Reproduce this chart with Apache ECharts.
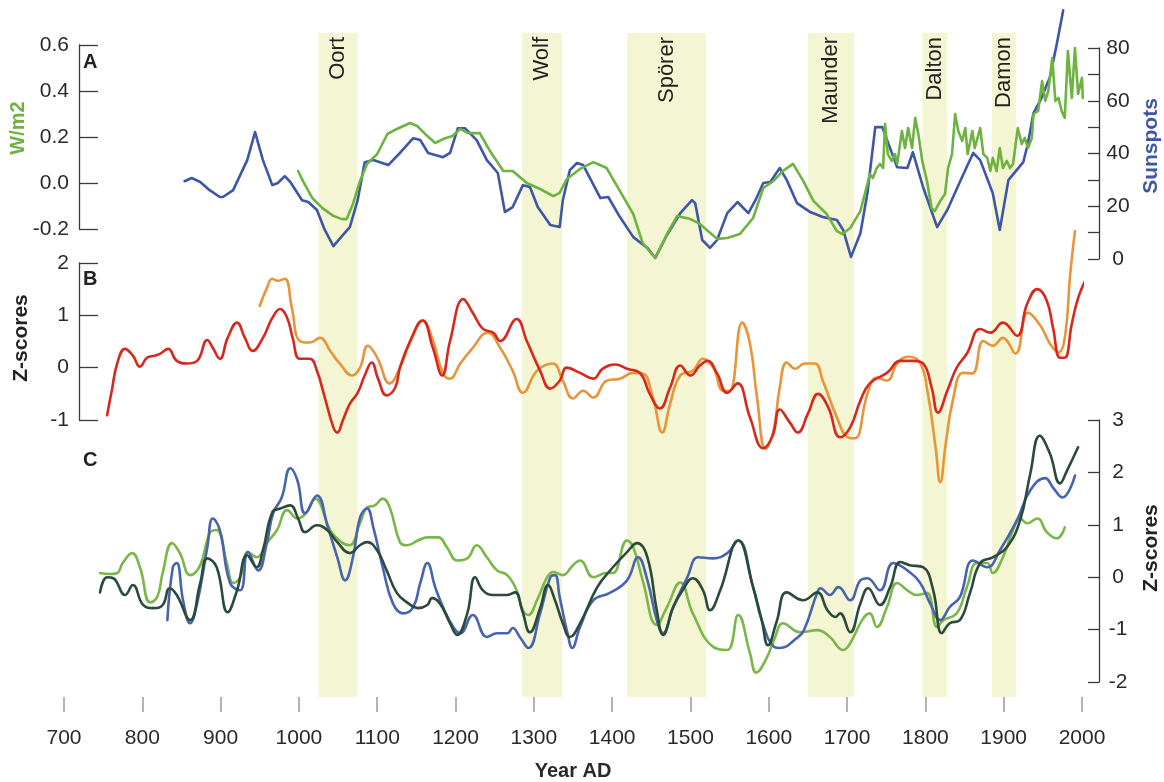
<!DOCTYPE html>
<html>
<head>
<meta charset="utf-8">
<script src="https://cdn.jsdelivr.net/npm/echarts@6/dist/echarts.min.js"></script>
<style>html,body{margin:0;padding:0;background:#fff;}#c{width:1164px;height:782px;}</style>
</head>
<body>
<div id="c"></div>
<script>
// ---- data ----
const xTicks = [700, 2000, 100];
const bandNames = ['Oort', 'Wolf', 'Spörer', 'Maunder', 'Dalton', 'Damon'];
const bandStart = [1025, 1285, 1419, 1650, 1796, 1885];
const bandEnd   = [1075, 1336, 1520, 1709, 1828, 1916];

// Panel A: total solar irradiance anomaly (W/m2)
const aIrradiance = [[999,0.052],[1005,0.009],[1017,-0.065],[1030,-0.109],[1044,-0.143],[1055,-0.157],[1061,-0.157],[1069,-0.091],[1078,0.009],[1087,0.083],[1100,0.126],[1113,0.213],[1125,0.235],[1142,0.261],[1151,0.248],[1164,0.204],[1174,0.174],[1184,0.191],[1196,0.204],[1206,0.235],[1216,0.217],[1231,0.217],[1244,0.139],[1261,0.052],[1273,0.052],[1291,0],[1308,-0.026],[1325,-0.057],[1333,-0.043],[1342,0.017],[1359,0.061],[1376,0.091],[1393,0.065],[1410,-0.035],[1427,-0.135],[1439,-0.261],[1455,-0.326],[1470,-0.222],[1483,-0.143],[1500,-0.157],[1512,-0.178],[1534,-0.243],[1547,-0.239],[1563,-0.222],[1580,-0.152],[1593,-0.022],[1606,0.009],[1618,0.052],[1631,0.083],[1644,0.009],[1657,-0.078],[1674,-0.135],[1687,-0.209],[1694,-0.222],[1704,-0.196],[1717,-0.122],[1726,-0.004],[1729,0.039],[1733,0.022],[1738,0.065],[1742,0.083],[1746,0.065],[1748.5,0.257],[1752,0.126],[1757,0.096],[1761,0.126],[1764,0.083],[1770,0.226],[1774,0.152],[1778,0.239],[1783,0.152],[1787,0.283],[1791,0.213],[1796,0.096],[1802,0.009],[1808,-0.109],[1812,-0.122],[1819,-0.078],[1825,-0.048],[1829,0.065],[1834,0.126],[1838,0.300],[1842,0.226],[1847,0.183],[1851,0.239],[1854,0.126],[1860,0.226],[1863,0.152],[1870,0.239],[1874,0.126],[1879,0.109],[1883,0.052],[1886,0.109],[1891,0.052],[1895,0.152],[1899,0.065],[1904,0.096],[1908,0.065],[1912,0.083],[1918,0.239],[1923,0.170],[1927,0.196],[1931,0.152],[1936,0.196],[1938,0.300],[1944,0.313],[1949,0.443],[1953,0.357],[1957,0.400],[1962,0.543],[1966,0.357],[1970,0.370],[1974,0.313],[1978,0.283],[1982,0.574],[1987,0.370],[1991,0.587],[1995,0.387],[2000,0.457],[2001,0.370]];
// Panel A: sunspot number
const aSunspots = [[854,29.5],[863,30.7],[874,29.2],[886,26.1],[899,23.5],[903,23.5],[916,26.1],[934,37.5],[944,48.1],[954,37.5],[966,28],[973,28.8],[982,31.4],[989,29.2],[1004,22.3],[1012,21.6],[1023,18.6],[1033,11],[1044,4.9],[1053,8],[1065,12.1],[1075,22.3],[1084,36.7],[1095,37.5],[1114,35.6],[1129,40.2],[1146,45.8],[1155,45.1],[1165,40.2],[1184,38.6],[1193,40.2],[1203,49.6],[1212,49.6],[1227,45.1],[1240,37.5],[1254,32.6],[1263,17.8],[1273,19.7],[1286,28],[1295,27.3],[1305,19.7],[1321,12.9],[1333,12.1],[1337,22.3],[1346,33.7],[1355,36.4],[1363,35.6],[1385,23.1],[1395,23.5],[1410,15.9],[1427,8.3],[1445,4.2],[1455,0.4],[1470,9.1],[1487,17.4],[1502,22.3],[1506,21.2],[1515,7.2],[1525,4.2],[1534,7.2],[1547,17.4],[1560,21.6],[1574,17.4],[1583,22.3],[1593,28.8],[1602,29.2],[1614,34.5],[1623,29.9],[1636,21.2],[1653,17.8],[1669,15.9],[1687,14.8],[1695,11],[1705,0.8],[1717,9.8],[1726,25],[1736,50],[1745,50],[1751,45.1],[1764,34.8],[1777,34.5],[1784,40.5],[1797,27.3],[1815,12.1],[1828,18.6],[1844,29.2],[1861,40.2],[1870,37.5],[1886,25],[1895,11],[1906,29.9],[1925,36.7],[1931,43.9],[1938,55.3],[1947,60.2],[1959,68.9],[1968,81.8],[1976,94.3]];

// Panel B: z-scores
const bRed = [[755,-0.91],[761,-0.44],[768,0.08],[778,0.36],[788,0.23],[797,0.02],[806,0.19],[816,0.23],[823,0.27],[833,0.36],[844,0.13],[857,0.08],[870,0.13],[883,0.53],[890,0.38],[899,0.17],[909,0.57],[921,0.86],[931,0.57],[941,0.32],[954,0.57],[966,0.95],[976,1.12],[985,0.95],[992,0.57],[1001,0.17],[1014,0.17],[1023,-0.06],[1033,-0.57],[1044,-1.14],[1049,-1.24],[1056,-1.01],[1065,-0.69],[1075,-0.48],[1084,-0.15],[1093,0.10],[1101,-0.21],[1112,-0.53],[1123,-0.38],[1129,0],[1142,0.51],[1158,0.90],[1171,0.38],[1183,-0.15],[1193,0.51],[1210,1.31],[1222,1.05],[1235,0.74],[1248,0.67],[1257,0.51],[1278,0.93],[1291,0.51],[1308,-0.06],[1321,-0.40],[1333,-0.25],[1342,0],[1359,-0.10],[1376,-0.21],[1388,-0.02],[1404,0.06],[1419,-0.02],[1436,-0.11],[1448,-0.50],[1461,-0.78],[1474,-0.38],[1487,0.04],[1500,-0.15],[1512,0.04],[1522,0.13],[1534,-0.11],[1547,-0.48],[1560,-0.30],[1576,-0.95],[1593,-1.54],[1605,-1.3],[1614,-0.8],[1627,-1.05],[1637,-1.24],[1650,-0.88],[1663,-0.50],[1676,-0.76],[1691,-1.33],[1704,-1.14],[1717,-0.63],[1729,-0.30],[1751,-0.10],[1768,0.13],[1784,0.13],[1797,0.08],[1808,-0.38],[1816,-0.86],[1828,-0.44],[1840,0],[1853,0.27],[1870,0.74],[1883,0.67],[1899,0.86],[1917,0.61],[1930,1.22],[1943,1.50],[1955,1.28],[1963,0.76],[1972,0.19],[1978,0.19],[1987,0.84],[1995,1.33],[2004,1.66]];
const bOrange = [[950,1.18],[959,1.52],[966,1.70],[973,1.66],[982,1.70],[991,1.14],[1001,0.51],[1014,0.48],[1027,0.57],[1040,0.32],[1052,0.08],[1068,-0.15],[1078,0],[1088,0.42],[1100,0.19],[1116,-0.30],[1129,0],[1142,0.48],[1158,0.90],[1170,0.57],[1184,-0.11],[1193,-0.21],[1206,0.08],[1221,0.36],[1241,0.67],[1257,0.38],[1273,-0.06],[1286,-0.48],[1304,-0.06],[1324,0.08],[1337,-0.25],[1350,-0.59],[1363,-0.44],[1376,-0.57],[1393,-0.25],[1410,-0.21],[1427,-0.10],[1439,-0.11],[1452,-0.57],[1464,-1.24],[1474,-0.69],[1487,-0.15],[1503,-0.06],[1516,0.17],[1529,0],[1542,-0.44],[1550,-0.44],[1566,0.86],[1576,0.46],[1585,-0.57],[1596,-1.55],[1606,-1.2],[1614,-0.38],[1623,0.10],[1634,-0.02],[1646,0.08],[1659,0.08],[1669,-0.25],[1687,-0.95],[1701,-1.33],[1710,-1.35],[1726,-0.50],[1738,-0.19],[1751,-0.25],[1764,0.08],[1778,0.21],[1793,0.10],[1803,-0.48],[1813,-1.52],[1819,-2.19],[1826,-1.45],[1835,-0.63],[1848,-0.10],[1860,-0.11],[1874,0.51],[1886,0.42],[1899,0.57],[1915,0.27],[1931,1.05],[1947,0.80],[1959,0.46],[1970,0.29],[1978,0.57],[1985,1.79],[1991,2.61]];

// Panel C: z-scores
const cGreen = [[746,0.08],[759,0.06],[768,0.08],[775,0.27],[787,0.46],[797,0.19],[810,-0.48],[819,-0.38],[826,0.08],[838,0.65],[848,0.46],[861,0.04],[874,0.23],[886,0.84],[895,0.90],[908,0.27],[916,-0.11],[925,0],[935,0.48],[946,0.38],[959,0.65],[972,0.90],[985,1.28],[998,1.12],[1010,1.24],[1021,1.50],[1027,1.41],[1040,0.90],[1056,0.65],[1065,0.61],[1078,1.03],[1087,1.33],[1097,1.37],[1107,1.50],[1116,1.33],[1129,0.67],[1138,0.61],[1152,0.70],[1164,0.76],[1178,0.76],[1189,0.57],[1202,0.32],[1215,0.36],[1227,0.61],[1240,0.38],[1253,0.13],[1266,0.04],[1278,-0.25],[1286,-0.63],[1293,-0.72],[1304,-0.44],[1317,0],[1325,0.10],[1337,0.04],[1350,0.23],[1359,0.32],[1376,0],[1393,0.08],[1401,0.08],[1419,0.70],[1427,0.57],[1439,-0.06],[1457,-0.91],[1470,-0.57],[1487,-0.10],[1503,-0.69],[1529,-1.33],[1547,-1.39],[1561,-0.72],[1576,-1.45],[1584,-1.82],[1597,-1.55],[1608,-1.15],[1618,-0.88],[1640,-1.05],[1662,-1.01],[1678,-1.14],[1695,-1.39],[1704,-1.26],[1720,-0.80],[1729,-0.69],[1738,-0.95],[1751,-0.57],[1764,-0.11],[1777,-0.25],[1789,-0.34],[1802,-0.30],[1815,-0.95],[1823,-0.82],[1840,-0.69],[1853,-0.19],[1866,0.27],[1879,0.27],[1886,0.08],[1899,0.38],[1912,0.90],[1921,1.12],[1930,1.03],[1943,1.12],[1955,0.86],[1968,0.74],[1978,0.95]];
const cDark = [[746,-0.29],[755,0],[763,-0.02],[778,-0.34],[788,-0.15],[801,-0.53],[814,-0.59],[826,-0.53],[835,-0.21],[844,-0.34],[861,-0.82],[874,-0.11],[883,0.36],[895,0.19],[909,-0.67],[921,-0.25],[934,0.42],[946,0.19],[954,0.51],[966,1.24],[976,1.31],[989,1.37],[999,1.12],[1008,0.86],[1023,0.99],[1036,0.90],[1049,0.67],[1065,0.46],[1078,0.61],[1087,0.67],[1100,0.51],[1112,0.13],[1125,-0.30],[1138,-0.48],[1152,-0.59],[1164,-0.53],[1170,-0.40],[1180,-0.50],[1193,-0.88],[1202,-1.10],[1215,-0.69],[1225,0],[1235,-0.25],[1248,-0.34],[1266,-0.34],[1276,-0.29],[1285,-0.63],[1295,-1.05],[1308,-0.59],[1318,-0.15],[1327,-0.44],[1337,-0.88],[1346,-1.14],[1359,-0.88],[1381,-0.19],[1401,0.19],[1419,0.48],[1432,0.65],[1445,0.38],[1457,-0.63],[1465,-1.10],[1478,-0.57],[1490,-0.25],[1503,-0.02],[1516,-0.25],[1525,-0.63],[1538,-0.25],[1561,0.70],[1580,-0.19],[1591,-0.82],[1599,-1.30],[1610,-0.85],[1623,-0.29],[1644,-0.44],[1662,-0.29],[1675,-0.63],[1685,-0.76],[1691,-0.69],[1704,-1.05],[1717,-0.50],[1727,-0.21],[1742,-0.53],[1755,-0.19],[1768,0.29],[1780,0.23],[1797,0.19],[1810,-0.25],[1821,-1.07],[1831,-0.88],[1844,-0.82],[1857,-0.30],[1870,0.27],[1886,0.38],[1904,0.57],[1921,1.09],[1934,1.98],[1946,2.70],[1959,2.36],[1972,1.79],[1981,2.04],[1995,2.48]];
const cBlue = [[832,-0.82],[839,0.19],[844,0.27],[852,-0.44],[861,-0.88],[870,-0.50],[883,0.57],[890,1.12],[899,0.90],[912,-0.11],[925,-0.25],[935,0.48],[948,0.13],[959,0.65],[967,1.22],[978,1.52],[989,2.08],[998,1.85],[1008,1.22],[1023,1.56],[1037,0.95],[1049,0.38],[1059,-0.06],[1069,0.38],[1078,1.14],[1087,1.31],[1095,0.95],[1107,0.19],[1120,-0.50],[1133,-0.69],[1146,-0.57],[1155,-0.11],[1164,0.27],[1174,-0.19],[1184,-0.57],[1197,-0.95],[1206,-1.07],[1222,-0.72],[1240,-1.14],[1253,-1.07],[1266,-1.07],[1273,-0.97],[1282,-1.14],[1293,-1.35],[1308,-0.69],[1321,0],[1327,0.04],[1333,-0.38],[1343,-1.07],[1349,-1.35],[1359,-0.95],[1376,-0.44],[1397,-0.30],[1419,-0.06],[1433,0.38],[1445,-0.06],[1457,-0.82],[1465,-1.07],[1478,-0.57],[1496,0],[1510,0.38],[1529,0.36],[1547,0.46],[1561,0.70],[1580,-0.19],[1591,-0.82],[1607,-1.33],[1614,-1.35],[1636,-1.16],[1645,-1.01],[1662,-0.29],[1666,-0.21],[1678,-0.34],[1689,-0.19],[1704,-0.44],[1717,-0.06],[1726,-0.02],[1742,-0.25],[1759,0.27],[1777,0.13],[1793,-0.10],[1806,-0.50],[1819,-0.82],[1831,-0.57],[1844,-0.38],[1861,0.32],[1879,0.19],[1895,0.51],[1917,1.09],[1934,1.66],[1953,1.89],[1963,1.71],[1975,1.52],[1991,1.94]];

// ---- chart ----
const FONT = 'Liberation Sans, Arial, Helvetica, sans-serif';
const AX = '#3a3a3a';
const chart = echarts.init(document.getElementById('c'), null, {renderer: 'canvas'});

const gridBase = {left: 64, right: 82, containLabel: false, outerBoundsMode: 'none'};
const hiddenX = (gi) => ({type: 'value', gridIndex: gi, min: xTicks[0], max: xTicks[1], interval: xTicks[2], show: false});

function leftY(gi, min, max, step, fmt) {
  return {type: 'value', gridIndex: gi, position: 'left', offset: -15, min, max, interval: step,
    axisLine: {show: true, lineStyle: {color: AX, width: 1.3}},
    axisTick: {show: true, inside: true, length: 19, lineStyle: {color: AX, width: 1.3}},
    axisLabel: {margin: 10, fontSize: 21, color: '#2a2a2a', fontFamily: FONT, formatter: fmt},
    splitLine: {show: false}};
}
function rightY(gi, min, max, step, fmt) {
  return {type: 'value', gridIndex: gi, position: 'right', offset: 17, min, max, interval: step,
    axisLine: {show: true, lineStyle: {color: AX, width: 1.3}},
    axisTick: {show: true, inside: true, length: 11, lineStyle: {color: AX, width: 1.3}},
    axisLabel: {margin: 19, align: 'center', fontSize: 21, color: '#2a2a2a', fontFamily: FONT, formatter: fmt},
    splitLine: {show: false}};
}

function line(name, data, color, xi, yi, smooth, z) {
  return {name, type: 'line', xAxisIndex: xi, yAxisIndex: yi, data, showSymbol: false, symbol: 'none',
    smooth: smooth, clip: false, z: z || 3,
    lineStyle: {color, width: 2.6, join: 'round', cap: 'round'}};
}

const option = {
  animation: false,
  backgroundColor: '#ffffff',
  textStyle: {fontFamily: FONT},
  grid: [
    Object.assign({top: 33, bottom: 85}, gridBase),
    Object.assign({top: 45, bottom: 553}, gridBase),
    Object.assign({top: 48, bottom: 523}, gridBase),
    Object.assign({top: 263, bottom: 362}, gridBase),
    Object.assign({top: 420, bottom: 100}, gridBase)
  ],
  xAxis: [
    {type: 'value', gridIndex: 0, min: xTicks[0], max: xTicks[1], interval: xTicks[2],
      axisLine: {show: false},
      axisTick: {show: true, length: 15, lineStyle: {color: '#9a9a9a', width: 1.5}},
      axisLabel: {margin: 31, fontSize: 21, color: '#2a2a2a', fontFamily: FONT, formatter: v => String(v)},
      splitLine: {show: false},
      name: 'Year AD', nameLocation: 'middle', nameGap: 64,
      nameTextStyle: {fontSize: 20, fontWeight: 'bold', color: '#2a2a2a', fontFamily: FONT}},
    hiddenX(1), hiddenX(2), hiddenX(3), hiddenX(4)
  ],
  yAxis: [
    {type: 'value', gridIndex: 0, min: 0, max: 1, show: false},
    leftY(1, -0.2, 0.6, 0.2, v => v.toFixed(1)),
    rightY(2, 0, 80, 10, v => (v % 20 === 0 ? String(v) : '')),
    leftY(3, -1, 2, 1, v => String(v)),
    rightY(4, -2, 3, 1, v => String(v))
  ],
  graphic: [
    {type: 'text', x: 18, y: 128, rotation: Math.PI / 2, style: {text: 'W/m2', fill: '#6cb33f', font: 'bold 20px ' + FONT, align: 'center', verticalAlign: 'middle'}},
    {type: 'text', x: 1151, y: 146, rotation: Math.PI / 2, style: {text: 'Sunspots', fill: '#3d56a6', font: 'bold 21px ' + FONT, align: 'center', verticalAlign: 'middle'}},
    {type: 'text', x: 21, y: 338, rotation: Math.PI / 2, style: {text: 'Z-scores', fill: '#222', font: 'bold 21px ' + FONT, align: 'center', verticalAlign: 'middle'}},
    {type: 'text', x: 1151, y: 548, rotation: Math.PI / 2, style: {text: 'Z-scores', fill: '#222', font: 'bold 21px ' + FONT, align: 'center', verticalAlign: 'middle'}},
    {type: 'text', x: 83, y: 62, style: {text: 'A', fill: '#222', font: 'bold 20px ' + FONT, align: 'left', verticalAlign: 'middle'}},
    {type: 'text', x: 83, y: 279, style: {text: 'B', fill: '#222', font: 'bold 20px ' + FONT, align: 'left', verticalAlign: 'middle'}},
    {type: 'text', x: 83, y: 460, style: {text: 'C', fill: '#222', font: 'bold 20px ' + FONT, align: 'left', verticalAlign: 'middle'}}
  ],
  series: [
    {type: 'line', xAxisIndex: 0, yAxisIndex: 0, data: [[xTicks[0], 0.5]], showSymbol: false, symbol: 'none',
      lineStyle: {width: 0, opacity: 0}, z: 1, silent: true,
      markArea: {silent: true,
        itemStyle: {color: '#f4f5d2'},
        label: {show: true, position: 'insideTop', distance: 4, rotate: 90, align: 'right', verticalAlign: 'middle',
          fontSize: 22, color: '#222', fontFamily: FONT},
        data: bandNames.map((n, i) => [{name: n, xAxis: bandStart[i]}, {xAxis: bandEnd[i]}])
      }},
    line('Sunspots', aSunspots, '#3d56a6', 2, 2, false, 3),
    line('W/m2', aIrradiance, '#6cb33f', 1, 1, false, 4),
    line('Orange', bOrange, '#e8953a', 3, 3, 0.45, 3),
    line('Red', bRed, '#d8281d', 3, 3, 0.45, 4),
    line('Green C', cGreen, '#7ab648', 4, 4, 0.45, 3),
    line('Blue C', cBlue, '#4863b0', 4, 4, 0.45, 4),
    line('Dark C', cDark, '#2a4a3a', 4, 4, 0.45, 5)
  ]
};
chart.setOption(option);
</script>
</body>
</html>
